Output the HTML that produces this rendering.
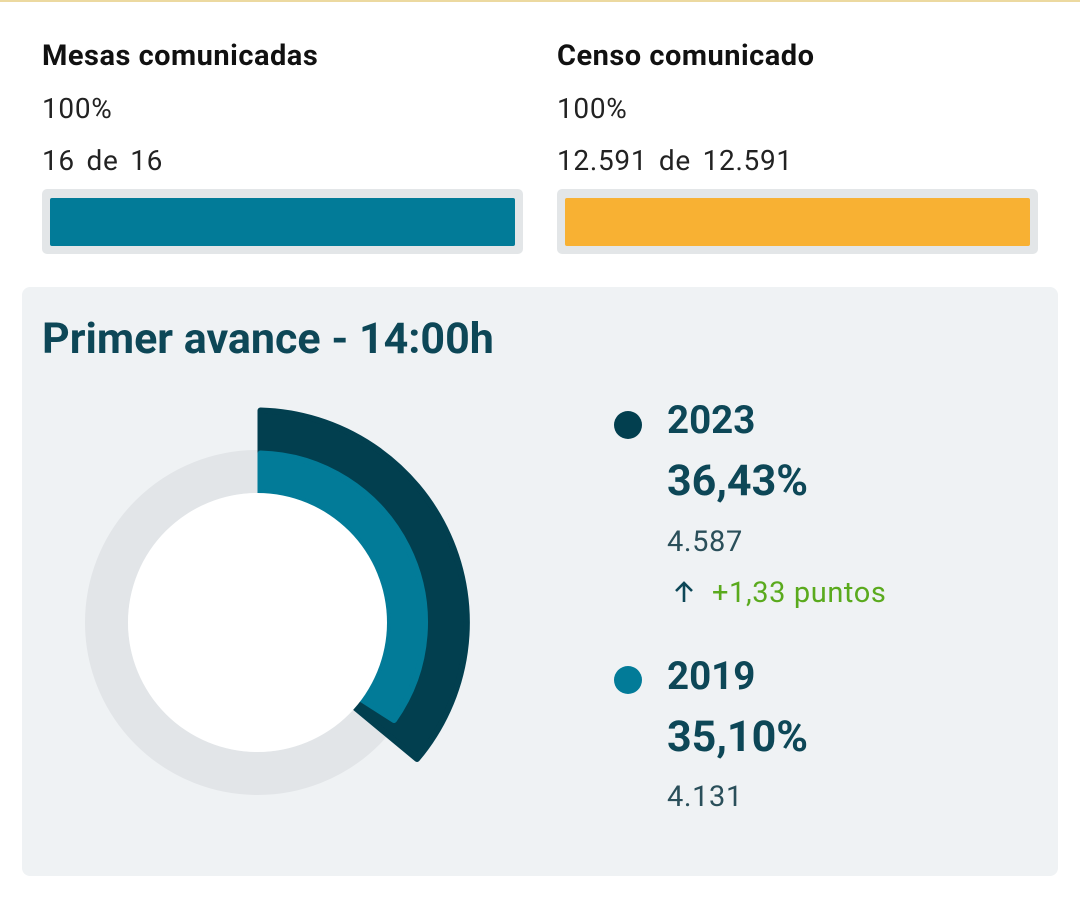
<!DOCTYPE html>
<html><head><meta charset="utf-8"><style>
body{margin:0;width:1080px;height:906px;background:#fff;font-family:"Roboto","Liberation Sans",sans-serif;position:relative;overflow:hidden}
.t{position:absolute;white-space:nowrap}
.r{font-size:28px;letter-spacing:0.7px;word-spacing:4px;color:#222}
</style></head><body>
<div style="position:absolute;left:0;top:0;width:1080px;height:2px;background:#ecd9a0"></div>
<div class="t" style="left:42px;top:39px;font-size:29px;font-weight:bold;color:#111;letter-spacing:0.5px">Mesas comunicadas</div>
<div class="t r" style="left:42px;top:92px">100%</div>
<div class="t r" style="left:42px;top:144px">16 de 16</div>
<div style="position:absolute;left:42px;top:189px;width:481px;height:65px;background:#e3e6e8;border-radius:5px"></div>
<div style="position:absolute;left:50px;top:198px;width:465px;height:48px;background:#027b98;border-radius:2px"></div>
<div class="t" style="left:557px;top:39px;font-size:29px;font-weight:bold;color:#111;letter-spacing:0.5px">Censo comunicado</div>
<div class="t r" style="left:557px;top:92px">100%</div>
<div class="t r" style="left:557px;top:144px">12.591 de 12.591</div>
<div style="position:absolute;left:557px;top:189px;width:481px;height:65px;background:#e3e6e8;border-radius:5px"></div>
<div style="position:absolute;left:565px;top:198px;width:465px;height:48px;background:#f8b133;border-radius:2px"></div>
<div style="position:absolute;left:22px;top:287px;width:1036px;height:589px;background:#eff2f4;border-radius:8px"></div>
<div class="t" style="left:42px;top:314px;font-size:43px;font-weight:bold;color:#0d4757">Primer avance - 14:00h</div>
<svg style="position:absolute;left:0;top:0" width="1080" height="906">
<circle cx="257.5" cy="622.5" r="151" fill="none" stroke="#e2e5e8" stroke-width="43"/>
<path d="M260.5,410.5 A212,212 0 0 1 417,759 L355.5,708 A130,130 0 0 0 260.5,492.5 Z" fill="#023f4f" stroke="#023f4f" stroke-width="6" stroke-linejoin="round"/>
<path d="M260.5,453.5 A169,169 0 0 1 394,720 L362.1,699.6 A130,130 0 0 0 260.5,492.5 Z" fill="#027b98" stroke="#027b98" stroke-width="6" stroke-linejoin="round"/>
<circle cx="257.5" cy="622.5" r="129.5" fill="#fff"/>
<circle cx="628" cy="425" r="14" fill="#023f4f"/>
<circle cx="628" cy="680" r="14" fill="#027b98"/>
<path d="M684,602 V584 M676,591 L684,583 L692,591" fill="none" stroke="#0d4757" stroke-width="2.6"/>
</svg>
<div class="t" style="left:667px;top:398px;font-size:38.5px;font-weight:bold;color:#0d4757">2023</div>
<div class="t" style="left:667px;top:456px;font-size:43px;font-weight:bold;color:#0d4757">36,43%</div>
<div class="t" style="left:667px;top:525px;font-size:29px;letter-spacing:0.6px;color:#2a4f5a">4.587</div>
<div class="t" style="left:712px;top:576px;font-size:29px;letter-spacing:0.6px;color:#5aaa1d">+1,33 puntos</div>
<div class="t" style="left:667px;top:654px;font-size:38.5px;font-weight:bold;color:#0d4757">2019</div>
<div class="t" style="left:667px;top:712px;font-size:43px;font-weight:bold;color:#0d4757">35,10%</div>
<div class="t" style="left:667px;top:780px;font-size:29px;letter-spacing:0.6px;color:#2a4f5a">4.131</div>
</body></html>
